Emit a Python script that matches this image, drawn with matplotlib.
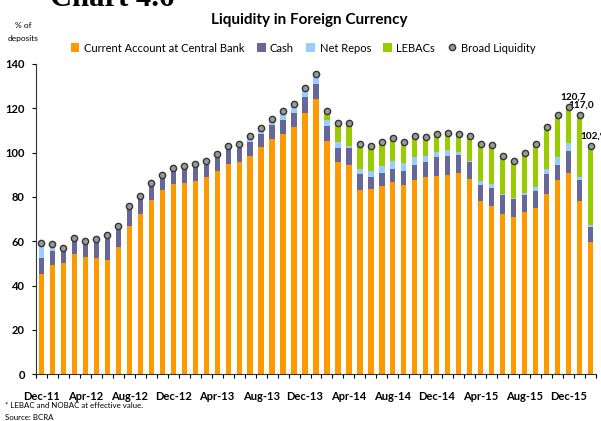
import matplotlib
matplotlib.use('Agg')
import matplotlib.pyplot as plt
from matplotlib.ticker import FixedLocator
import numpy as np

plt.rcParams['font.family'] = ['Lato', 'DejaVu Sans']

# meses: Dec-11 .. Feb-16
months = ['Dec-11', 'Jan-12', 'Feb-12', 'Mar-12', 'Apr-12', 'May-12', 'Jun-12', 'Jul-12',
          'Aug-12', 'Sep-12', 'Oct-12', 'Nov-12', 'Dec-12', 'Jan-13', 'Feb-13', 'Mar-13',
          'Apr-13', 'May-13', 'Jun-13', 'Jul-13', 'Aug-13', 'Sep-13', 'Oct-13', 'Nov-13',
          'Dec-13', 'Jan-14', 'Feb-14', 'Mar-14', 'Apr-14', 'May-14', 'Jun-14', 'Jul-14',
          'Aug-14', 'Sep-14', 'Oct-14', 'Nov-14', 'Dec-14', 'Jan-15', 'Feb-15', 'Mar-15',
          'Apr-15', 'May-15', 'Jun-15', 'Jul-15', 'Aug-15', 'Sep-15', 'Oct-15', 'Nov-15',
          'Dec-15', 'Jan-16', 'Feb-16']

current = [45.4, 49.3, 50.2, 54.5, 52.9, 52.5, 51.6, 57.5, 67.1, 72.5,
           78.8, 83.3, 86.0, 86.5, 87.0, 89.2, 91.8, 94.9, 96.0, 98.7,
           102.6, 106.2, 108.6, 111.6, 118.0, 124.3, 105.3, 95.8, 94.5, 83.2,
           83.7, 85.0, 86.8, 85.5, 87.7, 89.1, 89.5, 90.0, 90.9, 88.2,
           78.2, 76.0, 72.4, 71.0, 73.3, 75.1, 81.4, 87.7, 90.9, 78.2, 59.9]
cash = [7.1, 6.4, 5.5, 5.7, 6.1, 8.0, 9.5, 9.0, 8.4, 7.5,
        6.9, 6.0, 7.0, 7.0, 7.5, 5.4, 6.5, 7.1, 6.3, 6.3,
        6.0, 6.3, 6.2, 6.5, 7.2, 6.8, 6.8, 6.4, 7.7, 7.2,
        5.4, 5.9, 5.9, 6.3, 6.8, 6.7, 8.6, 8.6, 8.1, 7.6,
        7.3, 8.1, 8.5, 8.1, 7.6, 7.7, 9.0, 6.8, 9.9, 9.5, 6.6]
repos = [6.9, 3.3, 1.5, 1.2, 1.2, 0.6, 1.8, 0.6, 0.5, 0.4,
         0.4, 0.4, 0.3, 0.4, 0.4, 1.5, 1.2, 0.8, 1.7, 2.3,
         2.7, 2.9, 3.9, 3.9, 3.9, 4.2, 2.7, 2.8, 0.9, 2.3,
         2.7, 3.1, 3.6, 3.6, 3.6, 2.8, 2.3, 2.7, 1.4, 0.5,
         1.8, 1.8, 0.6, 0.4, 0.9, 1.8, 2.3, 3.6, 3.6, 1.4, 0.9]
lebac = [0] * 26 + [4.1, 8.2, 10.1, 11.3, 11.4, 10.9, 10.5, 9.6, 9.2, 8.5,
                    7.8, 7.5, 7.8, 11.1, 16.5, 17.5, 16.9, 17.0, 18.0, 19.2,
                    18.8, 19.0, 16.3, 27.9, 35.5]
broad = [59.4, 59.0, 57.2, 61.4, 60.2, 61.1, 62.9, 67.1, 76.0, 80.4,
         86.1, 89.7, 93.3, 93.9, 94.9, 96.1, 99.5, 102.8, 104.0, 107.3,
         111.3, 115.4, 118.7, 122.0, 129.1, 135.3, 118.9, 113.2, 113.2, 104.0,
         103.2, 104.9, 106.8, 105.0, 107.3, 107.1, 108.2, 108.8, 108.2, 107.4,
         103.8, 103.4, 98.4, 96.3, 99.8, 103.8, 111.5, 117.1, 120.7, 117.0, 102.9]

# etiquetas de los últimos tres puntos
labels = {48: '120,7', 49: '117,0', 50: '102,9'}
label_dx = {48: 3, 49: 1, 50: 2}

W, H = 601, 421
fig = plt.figure(figsize=(W / 100, H / 100), dpi=100)
ax = fig.add_axes([36 / W, (H - 374.3) / H, 560 / W, 310.3 / H])

x = np.arange(len(months))
b1 = np.array(current)
b2 = b1 + np.array(cash)
b3 = b2 + np.array(repos)
w = 0.48
h1 = ax.bar(x, current, w, color='#FF9900', label='Current Account at Central Bank')
h2 = ax.bar(x, cash, w, bottom=b1, color='#666699', label='Cash')
h3 = ax.bar(x, repos, w, bottom=b2, color='#99CCFF', label='Net Repos')
h4 = ax.bar(x, lebac, w, bottom=b3, color='#99CC00', label='LEBACs')
h5, = ax.plot(x, broad, 'o', ms=4.5, mfc='#999999', mec='#333333', mew=1.0,
              label='Broad Liquidity', zorder=5)

for i, t in labels.items():
    ax.annotate(t, (x[i], broad[i]), xytext=(label_dx[i], 4), textcoords='offset points',
                ha='center', va='bottom', fontsize=7.2, fontweight='bold',
                annotation_clip=False)

ax.set_xlim(-0.5, len(months) - 0.5)
ax.set_ylim(0, 140)
ax.set_yticks(range(0, 141, 20))
ax.set_xticks(x[::4])
ax.set_xticklabels(months[::4])
ax.xaxis.set_minor_locator(FixedLocator(np.arange(-0.5, len(months), 1)))
ax.tick_params(axis='x', which='major', length=0, pad=12, labelsize=8)
ax.tick_params(axis='x', which='minor', length=3, width=0.8, direction='out')
ax.tick_params(axis='y', length=3, width=0.8, pad=5, labelsize=8)
for lab in ax.get_xticklabels() + ax.get_yticklabels():
    lab.set_fontweight('bold')
for s in ['top', 'right']:
    ax.spines[s].set_visible(False)
ax.spines['left'].set_color('#333333')
ax.spines['bottom'].set_color('#333333')

fig.text(309 / W, (H - 20) / H, 'Liquidity in Foreign Currency', ha='center',
         va='center', fontsize=11, fontweight='bold')
fig.text(50 / W, (H - 6) / H, 'Chart 4.6', ha='left', va='baseline', fontsize=22,
         fontweight='bold', family='Liberation Serif')
fig.text(23 / W, (H - 25) / H, '% of', ha='center', va='center', fontsize=6)
fig.text(23 / W, (H - 38) / H, 'deposits', ha='center', va='center', fontsize=6)
fig.legend(handles=[h1, h2, h3, h4, h5], loc='center',
           bbox_to_anchor=(303 / W, (H - 48) / H), ncol=5,
           frameon=False, fontsize=8, handlelength=0.8, handleheight=0.8,
           handletextpad=0.4, columnspacing=1.1, borderaxespad=0)
fig.text(5 / W, (H - 405) / H, '* LEBAC and NOBAC at effective value.', ha='left',
         va='center', fontsize=5.7)
fig.text(5 / W, (H - 418) / H, 'Source: BCRA', ha='left', va='center', fontsize=5.7)

fig.savefig('out.png', dpi=100)
